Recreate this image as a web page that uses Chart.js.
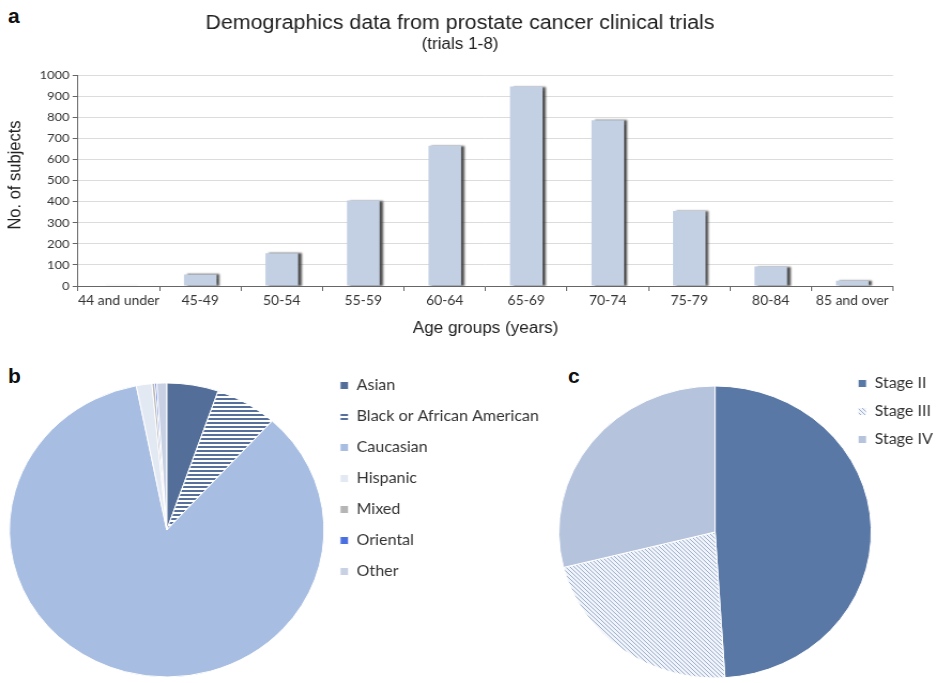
<!DOCTYPE html>
<html>
<head>
<meta charset="utf-8">
<title>Demographics data from prostate cancer clinical trials</title>
<script src="https://cdn.jsdelivr.net/npm/chart.js@4.4.1/dist/chart.umd.min.js"></script>
<style>
  html, body { margin: 0; padding: 0; background: #fff; width: 937px; height: 683px; overflow: hidden; }
  .panel { position: absolute; transform-origin: 0 0; transform: scaleX(1.07); }
  .tag { position: absolute; font: bold 21px/21px "Liberation Sans", Arial, sans-serif; color: #111; }
</style>
</head>
<body>
<div class="tag" style="left:8px;top:5px">a</div>
<div class="tag" style="left:8px;top:365px">b</div>
<div class="tag" style="left:568px;top:365px">c</div>

<canvas id="ageChart" class="panel" width="876" height="345" style="left:0;top:0;width:876px;height:345px"></canvas>
<canvas id="raceChart" class="panel" width="520" height="336" style="left:0;top:362px;width:520px;height:336px"></canvas>
<canvas id="stageChart" class="panel" width="390" height="338" style="left:540px;top:363px;width:390px;height:338px"></canvas>

<script>
// ---- data ----
const TITLE = 'Demographics data from prostate cancer clinical trials';
const SUBTITLE = '(trials 1-8)';
const X_TITLE = 'Age groups (years)';
const Y_TITLE = 'No. of subjects';

const AGE_GROUPS = ['44 and under', '45-49', '50-54', '55-59', '60-64', '65-69', '70-74', '75-79', '80-84', '85 and over'];
const SUBJECTS   = [2, 55, 155, 405, 665, 945, 785, 355, 92, 25];

const RACE_LABELS = ['Asian', 'Black or African American', 'Caucasian', 'Hispanic', 'Mixed', 'Oriental', 'Other'];
const RACE_SHARE  = [5.3, 6.4, 85.2, 1.6, 0.3, 0.2, 1.0];

const STAGE_LABELS = ['Stage II', 'Stage III', 'Stage IV'];
const STAGE_SHARE  = [49.0, 22.1, 28.9];

// ---- shared styling ----
const BASE_FAMILY = "Lato, 'Liberation Sans', sans-serif";
const LEGEND_SIZE = 15;
const LEGEND_BOX = 8;
Chart.defaults.font.family = BASE_FAMILY;
Chart.defaults.color = '#333';

// width Chart.js gives a one-column legend on the right
function legendWidth(labels, pad) {
  const g = document.createElement('canvas').getContext('2d');
  g.font = LEGEND_SIZE + 'px ' + BASE_FAMILY;
  const widest = Math.max(...labels.map(t => g.measureText(t).width));
  return pad + LEGEND_BOX + LEGEND_SIZE / 2 + widest + 10;
}

function makePattern(size, bg, fg, paint) {
  const c = document.createElement('canvas');
  c.width = size; c.height = size;
  const g = c.getContext('2d');
  g.fillStyle = bg; g.fillRect(0, 0, size, size);
  g.fillStyle = fg; paint(g, size);
  return g.createPattern(c, 'repeat');
}
// horizontal stripes
const stripePattern = makePattern(4, '#ffffff', '#56709b', (g, s) => g.fillRect(0, 0, s, 2));
// fine diagonal hatching
const hatchPattern = makePattern(4, '#f1f4f9', '#9db0d0', (g, s) => { for (let i = 0; i < s; i++) g.fillRect(i, i, 1, 1); });

// soft dark edge on the right side of every bar
const barShadow = {
  id: 'barShadow',
  beforeDatasetDraw(chart) {
    const ctx = chart.ctx;
    ctx.save();
    ctx.shadowColor = 'rgba(50,50,50,0.85)';
    ctx.shadowBlur = 2;
    ctx.shadowOffsetX = 3;
    ctx.shadowOffsetY = 0;
  },
  afterDatasetDraw(chart) { chart.ctx.restore(); }
};

// vertical axis caption, centred on the panel rather than the plot
const yCaption = {
  id: 'yCaption',
  afterDraw(chart) {
    const ctx = chart.ctx;
    ctx.save();
    ctx.translate(14, 175);
    ctx.rotate(-Math.PI / 2);
    ctx.font = "16.5px 'Liberation Sans', Arial, sans-serif";
    ctx.fillStyle = '#222';
    ctx.textAlign = 'center';
    ctx.textBaseline = 'middle';
    ctx.fillText(Y_TITLE, 0, 0);
    ctx.restore();
  }
};

// ---- a: subjects per age group ----
new Chart(document.getElementById('ageChart'), {
  type: 'bar',
  data: {
    labels: AGE_GROUPS,
    datasets: [{
      data: SUBJECTS,
      backgroundColor: '#c3d0e4',
      barPercentage: 0.4,
      categoryPercentage: 1
    }]
  },
  options: {
    responsive: false,
    animation: false,
    layout: { padding: { left: 25.2, right: 41.4, top: 0, bottom: 0 } },
    plugins: {
      legend: { display: false },
      tooltip: { enabled: false },
      title: {
        display: true, text: TITLE, color: '#222',
        font: { family: "'Liberation Sans', Arial, sans-serif", size: 20, weight: 'normal' },
        padding: { top: 11.3, bottom: 0 }
      },
      subtitle: {
        display: true, text: SUBTITLE, color: '#222',
        font: { family: "'Liberation Sans', Arial, sans-serif", size: 16 },
        padding: { top: 0, bottom: 20.5 }
      }
    },
    scales: {
      x: {
        grid: { display: true, drawOnChartArea: false, offset: true, tickLength: 5, tickColor: '#666' },
        border: { color: '#666' },
        ticks: { font: { size: 13 }, color: '#333', padding: 2, maxRotation: 0, autoSkip: false },
        title: {
          display: true, text: X_TITLE, color: '#222',
          font: { family: "'Liberation Sans', Arial, sans-serif", size: 16 },
          padding: { top: 0, bottom: 6.4 }
        },
        afterFit(scale) { scale.height = 59; }
      },
      y: {
        min: 0, max: 1000,
        ticks: { stepSize: 100, font: { size: 12 }, color: '#333', padding: 3, callback: v => String(v) },
        grid: { color: '#dcdcdc', tickColor: '#666', tickLength: 5 },
        border: { color: '#666' },
        afterFit(scale) { scale.width = 47.7; }
      }
    }
  },
  plugins: [barShadow, yCaption]
});

// ---- b: ethnicity ----
const RACE_PAD = 16;
new Chart(document.getElementById('raceChart'), {
  type: 'pie',
  data: {
    labels: RACE_LABELS,
    datasets: [{
      data: RACE_SHARE,
      backgroundColor: ['#536e98', stripePattern, '#a7bde1', '#e3e9f3', '#b5b5b5', '#4a6fe0', '#c8d0e3'],
      borderColor: '#ffffff',
      borderWidth: 1,
      radius: 147
    }]
  },
  options: {
    responsive: false,
    animation: false,
    layout: { padding: { left: 9.8, right: 520 - 301.8 - legendWidth(RACE_LABELS, RACE_PAD), top: 0, bottom: 0 } },
    plugins: {
      tooltip: { enabled: false },
      legend: {
        position: 'right', align: 'start',
        labels: { boxWidth: LEGEND_BOX, boxHeight: LEGEND_BOX, padding: RACE_PAD, color: '#333', font: { size: LEGEND_SIZE } }
      }
    }
  }
});

// ---- c: disease stage ----
const STAGE_PAD = 13;
new Chart(document.getElementById('stageChart'), {
  type: 'pie',
  data: {
    labels: STAGE_LABELS,
    datasets: [{
      data: STAGE_SHARE,
      backgroundColor: ['#5a78a6', hatchPattern, '#b6c3dc'],
      borderColor: '#ffffff',
      borderWidth: 1,
      radius: 146
    }]
  },
  options: {
    responsive: false,
    animation: false,
    layout: { padding: { left: 43, right: 390 - 284.2 - legendWidth(STAGE_LABELS, STAGE_PAD), top: 0, bottom: 0 } },
    plugins: {
      tooltip: { enabled: false },
      legend: {
        position: 'right', align: 'start',
        labels: { boxWidth: LEGEND_BOX, boxHeight: LEGEND_BOX, padding: STAGE_PAD, color: '#333', font: { size: LEGEND_SIZE } }
      }
    }
  }
});
</script>
</body>
</html>
